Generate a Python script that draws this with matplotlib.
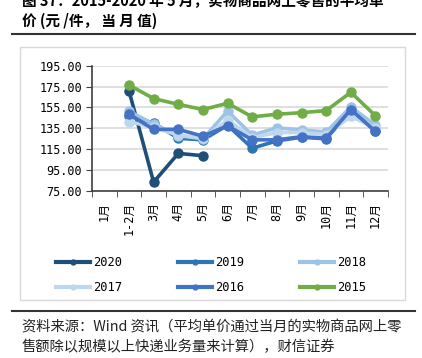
import numpy as np
import matplotlib.pyplot as plt
from matplotlib.patches import Rectangle
from matplotlib.lines import Line2D

plt.rcParams['font.family'] = ['DejaVu Sans Mono', 'Noto Sans CJK SC']

months = ['1月', '1-2月', '3月', '4月', '5月', '6月', '7月', '8月', '9月', '10月', '11月', '12月']
nan = np.nan
y2020 = [nan, 171.0, 83.5, 111.0, 108.8, nan, nan, nan, nan, nan, nan, nan]
y2019 = [nan, 147.0, 140.0, 125.5, 124.0, 138.0, 116.0, 123.0, 126.5, 125.0, 152.5, 132.5]
y2018 = [nan, 151.5, 139.0, 128.0, 125.0, 151.5, 128.5, 135.5, 133.5, 131.5, 155.5, 138.0]
y2017 = [nan, 141.5, 136.0, 128.5, 125.5, 143.0, 126.0, 131.0, 131.0, 129.0, 146.5, 135.0]
y2016 = [nan, 148.5, 134.0, 134.0, 127.5, 137.5, 124.0, 124.0, 127.0, 125.5, 153.0, 132.0]
y2015 = [nan, 176.5, 163.5, 158.0, 153.0, 159.0, 146.0, 148.5, 150.0, 152.0, 169.5, 147.0]

series = [
    ('2020', y2020, '#1F4E79'),
    ('2019', y2019, '#2E75B6'),
    ('2018', y2018, '#9DC3E6'),
    ('2017', y2017, '#BDD7EE'),
    ('2016', y2016, '#4472C4'),
    ('2015', y2015, '#70AD47'),
]

fig = plt.figure(figsize=(4.22, 3.58), dpi=100)
ax = fig.add_axes([0.218, 0.4665, 0.701, 0.35])

x = np.arange(len(months))
for name, vals, col in series:
    ax.plot(x, vals, color=col, lw=2.6, marker='o', markersize=6.5, label=name,
            solid_capstyle='round')

ax.set_xlim(-0.5, len(months) - 0.5)
ax.set_ylim(75, 195)
yt = np.arange(75, 196, 20)
ax.set_yticks(yt)
ax.set_yticklabels([f'{v:.2f}' for v in yt], fontsize=8.5)
ax.yaxis.grid(True, color='#D9D9D9', lw=1.2)
ax.set_axisbelow(True)

ax.set_xticks(x)
ax.set_xticklabels(months, rotation=90, fontsize=8.5, va='top')
ax.set_xticks(np.arange(-0.5, len(months)), minor=True)
ax.tick_params(axis='x', which='major', length=0, pad=8)
ax.tick_params(axis='x', which='minor', length=4, color='#404040', direction='out')
ax.tick_params(axis='y', length=4, color='#404040', direction='out', pad=3)
for s in ['top', 'right']:
    ax.spines[s].set_visible(False)
for s in ['left', 'bottom']:
    ax.spines[s].set_color('#404040')
    ax.spines[s].set_linewidth(1.2)

handles = [Line2D([], [], color=c, lw=3, marker='o', markersize=3.5) for _, _, c in series]
labels = [n for n, _, _ in series]
# reorder for row-wise filling (matplotlib fills column-wise)
order = [0, 3, 1, 4, 2, 5]
fig.legend([handles[i] for i in order], [labels[i] for i in order], ncol=3,
           loc='center', bbox_to_anchor=(0.5, 1 - 275 / 358), frameon=False,
           fontsize=8.7, handlelength=2.8, columnspacing=4.6, handletextpad=0.3,
           labelspacing=0.95)

# chart frame
fig.patches.append(Rectangle((20 / 422, 1 - 300 / 358), 385 / 422, 253 / 358,
                             transform=fig.transFigure, fill=False,
                             edgecolor='#D9D9D9', lw=1.0))
# separator lines
for yy in [34, 311]:
    fig.add_artist(Line2D([12 / 422, 415 / 422], [1 - yy / 358] * 2,
                          transform=fig.transFigure, color='#333333', lw=1.5))

cjk = ['Noto Sans CJK SC', 'DejaVu Sans']
fig.text(22 / 422, 1 - 1 / 358, '图 37：2015-2020 年 5 月，实物商品网上零售的平均单',
         family=cjk, fontsize=10.5, weight='bold', va='center')
fig.text(22 / 422, 1 - 21 / 358, '价 (元 /件， 当 月 值)', family=cjk, fontsize=10.5,
         weight='bold', va='center')
fig.text(22 / 422, 1 - 328 / 358,
         '资料来源：Wind 资讯（平均单价通过当月的实物商品网上零',
         family=cjk, fontsize=10.3, va='center', color='#222222')
fig.text(22 / 422, 1 - 347 / 358,
         '售额除以规模以上快递业务量来计算），财信证券',
         family=cjk, fontsize=10.3, va='center', color='#222222')

fig.savefig('out.png', dpi=100)
